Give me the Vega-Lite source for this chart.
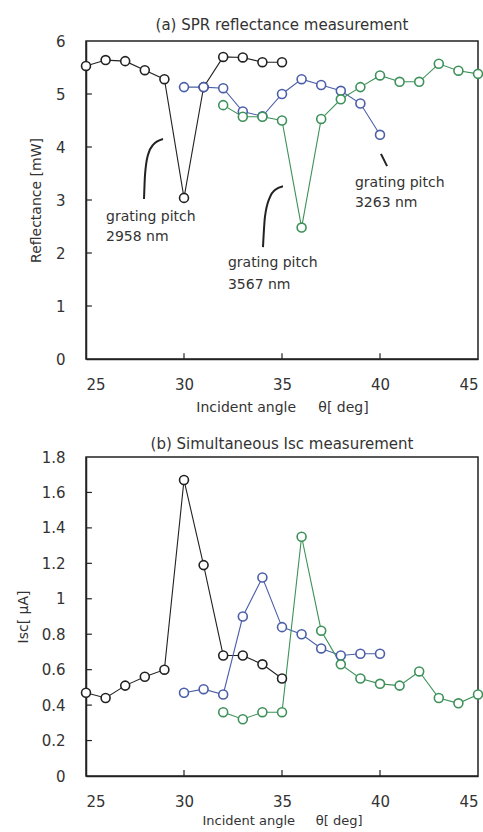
{
  "$schema": "https://vega.github.io/schema/vega-lite/v6.json",
  "padding": {"left": 15, "top": 17, "right": 0, "bottom": 0},
  "spacing": 21,
  "config": {
    "font": "DejaVu Sans",
    "view": {"stroke": "#222", "strokeWidth": 1.5},
    "axis": {
      "grid": false,
      "domainColor": "#222",
      "domainWidth": 1.5,
      "ticks": false,
      "labelOverlap": false,
      "labelFontSize": 15,
      "labelColor": "#333",
      "titleFontSize": 14,
      "titleFontWeight": "normal",
      "titleColor": "#333"
    },
    "title": {"fontSize": 15, "fontWeight": "normal", "color": "#333"}
  },
  "datasets": {
    "refl": [
      {"series": "2958", "angle": 25, "value": 5.53},
      {"series": "2958", "angle": 26, "value": 5.64},
      {"series": "2958", "angle": 27, "value": 5.62},
      {"series": "2958", "angle": 28, "value": 5.45},
      {"series": "2958", "angle": 29, "value": 5.28},
      {"series": "2958", "angle": 30, "value": 3.04},
      {"series": "2958", "angle": 31, "value": 5.13},
      {"series": "2958", "angle": 32, "value": 5.70},
      {"series": "2958", "angle": 33, "value": 5.69},
      {"series": "2958", "angle": 34, "value": 5.60},
      {"series": "2958", "angle": 35, "value": 5.60},
      {"series": "3263", "angle": 30, "value": 5.13},
      {"series": "3263", "angle": 31, "value": 5.13},
      {"series": "3263", "angle": 32, "value": 5.11},
      {"series": "3263", "angle": 33, "value": 4.67},
      {"series": "3263", "angle": 34, "value": 4.58},
      {"series": "3263", "angle": 35, "value": 5.00},
      {"series": "3263", "angle": 36, "value": 5.28},
      {"series": "3263", "angle": 37, "value": 5.17},
      {"series": "3263", "angle": 38, "value": 5.06},
      {"series": "3263", "angle": 39, "value": 4.82},
      {"series": "3263", "angle": 40, "value": 4.23},
      {"series": "3567", "angle": 32, "value": 4.79},
      {"series": "3567", "angle": 33, "value": 4.57},
      {"series": "3567", "angle": 34, "value": 4.57},
      {"series": "3567", "angle": 35, "value": 4.50},
      {"series": "3567", "angle": 36, "value": 2.48},
      {"series": "3567", "angle": 37, "value": 4.53},
      {"series": "3567", "angle": 38, "value": 4.90},
      {"series": "3567", "angle": 39, "value": 5.13},
      {"series": "3567", "angle": 40, "value": 5.35},
      {"series": "3567", "angle": 41, "value": 5.23},
      {"series": "3567", "angle": 42, "value": 5.23},
      {"series": "3567", "angle": 43, "value": 5.57},
      {"series": "3567", "angle": 44, "value": 5.44},
      {"series": "3567", "angle": 45, "value": 5.38}
    ],
    "isc": [
      {"series": "2958", "angle": 25, "value": 0.47},
      {"series": "2958", "angle": 26, "value": 0.44},
      {"series": "2958", "angle": 27, "value": 0.51},
      {"series": "2958", "angle": 28, "value": 0.56},
      {"series": "2958", "angle": 29, "value": 0.60},
      {"series": "2958", "angle": 30, "value": 1.67},
      {"series": "2958", "angle": 31, "value": 1.19},
      {"series": "2958", "angle": 32, "value": 0.68},
      {"series": "2958", "angle": 33, "value": 0.68},
      {"series": "2958", "angle": 34, "value": 0.63},
      {"series": "2958", "angle": 35, "value": 0.55},
      {"series": "3263", "angle": 30, "value": 0.47},
      {"series": "3263", "angle": 31, "value": 0.49},
      {"series": "3263", "angle": 32, "value": 0.46},
      {"series": "3263", "angle": 33, "value": 0.90},
      {"series": "3263", "angle": 34, "value": 1.12},
      {"series": "3263", "angle": 35, "value": 0.84},
      {"series": "3263", "angle": 36, "value": 0.80},
      {"series": "3263", "angle": 37, "value": 0.72},
      {"series": "3263", "angle": 38, "value": 0.68},
      {"series": "3263", "angle": 39, "value": 0.69},
      {"series": "3263", "angle": 40, "value": 0.69},
      {"series": "3567", "angle": 32, "value": 0.36},
      {"series": "3567", "angle": 33, "value": 0.32},
      {"series": "3567", "angle": 34, "value": 0.36},
      {"series": "3567", "angle": 35, "value": 0.36},
      {"series": "3567", "angle": 36, "value": 1.35},
      {"series": "3567", "angle": 37, "value": 0.82},
      {"series": "3567", "angle": 38, "value": 0.63},
      {"series": "3567", "angle": 39, "value": 0.55},
      {"series": "3567", "angle": 40, "value": 0.52},
      {"series": "3567", "angle": 41, "value": 0.51},
      {"series": "3567", "angle": 42, "value": 0.59},
      {"series": "3567", "angle": 43, "value": 0.44},
      {"series": "3567", "angle": 44, "value": 0.41},
      {"series": "3567", "angle": 45, "value": 0.46}
    ],
    "curves": [
      {"curve": "a", "angle": 27.96, "value": 3.02},
      {"curve": "a", "angle": 28.01, "value": 3.47},
      {"curve": "a", "angle": 28.16, "value": 3.85},
      {"curve": "a", "angle": 28.42, "value": 4.04},
      {"curve": "a", "angle": 28.93, "value": 4.15},
      {"curve": "b", "angle": 34.03, "value": 2.11},
      {"curve": "b", "angle": 34.13, "value": 2.68},
      {"curve": "b", "angle": 34.39, "value": 3.06},
      {"curve": "b", "angle": 34.64, "value": 3.19},
      {"curve": "b", "angle": 35.05, "value": 3.26},
      {"curve": "c", "angle": 40.05, "value": 3.87},
      {"curve": "c", "angle": 40.36, "value": 3.64}
    ],
    "notes": [
      {"label": "grating pitch", "angle": 26.02, "value": 2.68},
      {"label": "2958 nm", "angle": 26.02, "value": 2.30},
      {"label": "grating pitch", "angle": 32.24, "value": 1.81},
      {"label": "3567 nm", "angle": 32.24, "value": 1.40},
      {"label": "grating pitch", "angle": 38.72, "value": 3.32},
      {"label": "3263 nm", "angle": 38.72, "value": 2.94}
    ],
    "xticks": [{"t": 30}, {"t": 35}, {"t": 40}],
    "yticksA": [{"t": 1}, {"t": 2}, {"t": 3}, {"t": 4}, {"t": 5}],
    "yticksB": [{"t": 0.2}, {"t": 0.4}, {"t": 0.6}, {"t": 0.8}, {"t": 1}, {"t": 1.2}, {"t": 1.4}, {"t": 1.6}]
  },
  "vconcat": [
    {
      "width": 392,
      "height": 318,
      "title": {"text": "(a) SPR reflectance measurement", "offset": 1},
      "layer": [
        {
          "data": {"name": "refl"},
          "mark": {"type": "line", "strokeWidth": 1.1},
          "encoding": {
            "x": {"field": "angle", "type": "quantitative", "scale": {"domain": [25, 45], "nice": false},
                  "axis": {"values": [25, 30, 35, 40, 45], "tickCount": 20, "format": "~g", "title": "Incident angle\u00a0\u00a0\u00a0\u00a0\u00a0θ[ deg]", "labelPadding": 18, "titlePadding": 8}},
            "y": {"field": "value", "type": "quantitative", "scale": {"domain": [0, 6], "nice": false},
                  "axis": {"values": [0, 1, 2, 3, 4, 5, 6], "tickCount": 20, "format": "~g", "title": "Reflectance [mW]", "labelPadding": 21, "titlePadding": 12}},
            "color": {"field": "series", "type": "nominal", "legend": null,
                      "scale": {"domain": ["2958", "3263", "3567"], "range": ["#222222", "#4b5ea8", "#3d9159"]}}
          }
        },
        {
          "data": {"name": "refl"},
          "mark": {"type": "point", "filled": false, "fill": "white", "fillOpacity": 1, "strokeWidth": 1.6, "size": 80, "opacity": 1},
          "encoding": {
            "x": {"field": "angle", "type": "quantitative"},
            "y": {"field": "value", "type": "quantitative"},
            "color": {"field": "series", "type": "nominal", "legend": null}
          }
        },
        {
          "data": {"name": "xticks"},
          "mark": {"type": "rule", "color": "#222", "strokeWidth": 1.2},
          "encoding": {
            "x": {"field": "t", "type": "quantitative"},
            "y": {"datum": 0},
            "y2": {"datum": 0.11}
          }
        },
        {
          "data": {"name": "yticksA"},
          "mark": {"type": "rule", "color": "#222", "strokeWidth": 1.2},
          "encoding": {
            "y": {"field": "t", "type": "quantitative"},
            "x": {"datum": 25},
            "x2": {"datum": 25.3}
          }
        },
        {
          "data": {"name": "curves"},
          "mark": {"type": "line", "interpolate": "monotone", "strokeWidth": 2, "color": "#222"},
          "encoding": {
            "x": {"field": "angle", "type": "quantitative"},
            "y": {"field": "value", "type": "quantitative"},
            "detail": {"field": "curve", "type": "nominal"}
          }
        },
        {
          "data": {"name": "notes"},
          "mark": {"type": "text", "align": "left", "baseline": "middle", "fontSize": 14, "color": "#333"},
          "encoding": {
            "x": {"field": "angle", "type": "quantitative"},
            "y": {"field": "value", "type": "quantitative"},
            "text": {"field": "label", "type": "nominal"}
          }
        }
      ]
    },
    {
      "width": 392,
      "height": 319,
      "title": {"text": "(b) Simultaneous Isc measurement", "offset": -2},
      "layer": [
        {
          "data": {"name": "isc"},
          "mark": {"type": "line", "strokeWidth": 1.1},
          "encoding": {
            "x": {"field": "angle", "type": "quantitative", "scale": {"domain": [25, 45], "nice": false},
                  "axis": {"values": [25, 30, 35, 40, 45], "tickCount": 20, "format": "~g", "title": "Incident angle\u00a0\u00a0\u00a0\u00a0\u00a0θ[ deg]", "titleFontSize": 13, "labelPadding": 18, "titlePadding": 5}},
            "y": {"field": "value", "type": "quantitative", "scale": {"domain": [0, 1.8], "nice": false},
                  "axis": {"values": [0, 0.2, 0.4, 0.6, 0.8, 1, 1.2, 1.4, 1.6, 1.8], "tickCount": 20, "format": "~g", "title": "Isc[ μA]", "labelPadding": 21, "titlePadding": 11}},
            "color": {"field": "series", "type": "nominal", "legend": null,
                      "scale": {"domain": ["2958", "3263", "3567"], "range": ["#222222", "#4b5ea8", "#3d9159"]}}
          }
        },
        {
          "data": {"name": "isc"},
          "mark": {"type": "point", "filled": false, "fill": "white", "fillOpacity": 1, "strokeWidth": 1.6, "size": 80, "opacity": 1},
          "encoding": {
            "x": {"field": "angle", "type": "quantitative"},
            "y": {"field": "value", "type": "quantitative"},
            "color": {"field": "series", "type": "nominal", "legend": null}
          }
        },
        {
          "data": {"name": "xticks"},
          "mark": {"type": "rule", "color": "#222", "strokeWidth": 1.2},
          "encoding": {
            "x": {"field": "t", "type": "quantitative"},
            "y": {"datum": 0},
            "y2": {"datum": 0.034}
          }
        },
        {
          "data": {"name": "yticksB"},
          "mark": {"type": "rule", "color": "#222", "strokeWidth": 1.2},
          "encoding": {
            "y": {"field": "t", "type": "quantitative"},
            "x": {"datum": 25},
            "x2": {"datum": 25.3}
          }
        }
      ]
    }
  ]
}
